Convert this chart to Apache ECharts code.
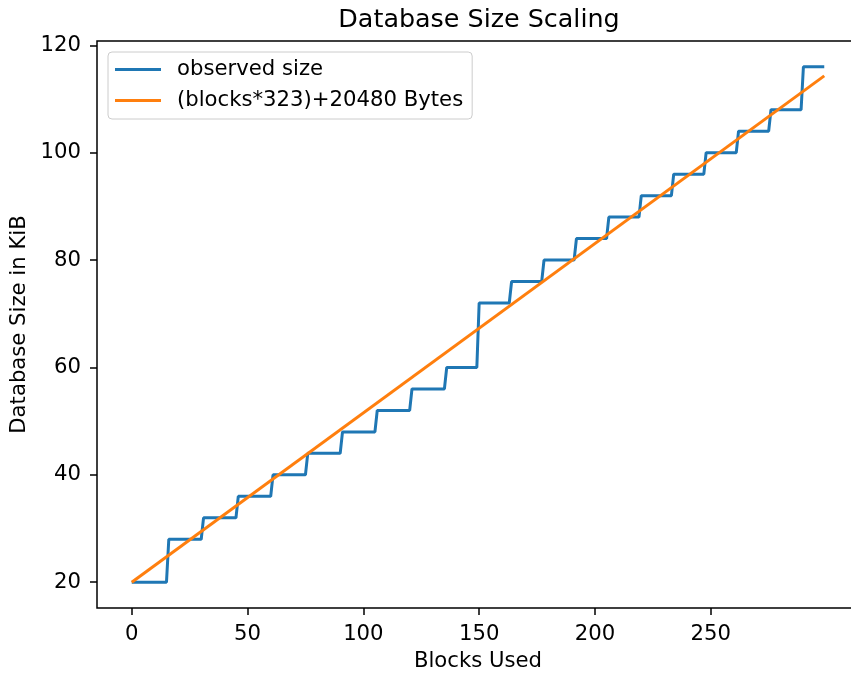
<!DOCTYPE html>
<html>
<head>
<meta charset="utf-8">
<script src="https://cdn.jsdelivr.net/npm/echarts@6/dist/echarts.min.js"></script>
<style>
  html, body { margin: 0; padding: 0; background: #fff; }
  #chart { width: 851px; height: 675px; }
</style>
</head>
<body>
<div id="chart"></div>
<script>
// observed size: first block of each plateau and its size in KiB
const stepBlocks = [0, 16, 31, 46, 61, 76, 91, 106, 121, 136, 150, 164, 178, 192, 206, 220, 234, 248, 262, 276, 290];
const stepSizes = [20, 28, 32, 36, 40, 44, 48, 52, 56, 60, 72, 76, 80, 84, 88, 92, 96, 100, 104, 108, 116];
const lastBlock = 299;

// fitted line endpoints
const fitBlocks = [0, 299];
const fitSizes = [20, 114.3];

const xTicks = [0, 50, 100, 150, 200, 250];
const yTicks = [20, 40, 60, 80, 100, 120];

const observed = [];
for (let i = 0; i < stepBlocks.length; i++) {
    const end = i + 1 < stepBlocks.length ? stepBlocks[i + 1] - 1 : lastBlock;
    observed.push([stepBlocks[i], stepSizes[i]]);
    observed.push([end, stepSizes[i]]);
}
const fit = fitBlocks.map((b, i) => [b, fitSizes[i]]);

const font = 'DejaVu Sans';
const fs = 21.2;
const chart = echarts.init(document.getElementById('chart'));
chart.setOption({
    animation: false,
    title: {
        text: 'Database Size Scaling',
        left: 479,
        top: 8,
        padding: 0,
        textAlign: 'center',
        textStyle: { fontFamily: font, fontSize: 25.4, fontWeight: 'normal', color: '#000' }
    },
    grid: {
        left: 97, top: 41, bottom: 67, width: 762,
        outerBoundsMode: 'none',
        show: true, borderColor: '#000', borderWidth: 1.5,
        containLabel: false
    },
    legend: {
        orient: 'vertical',
        left: 108, top: 52,
        padding: [7, 9, 8, 7],
        itemGap: 10,
        itemWidth: 46,
        itemHeight: 3,
        icon: 'rect',
        backgroundColor: 'rgba(255,255,255,0.8)',
        borderColor: '#cccccc',
        borderWidth: 1,
        borderRadius: 4,
        textStyle: { fontFamily: font, fontSize: fs, color: '#000', padding: [0, 0, 0, 11] },
        data: ['observed size', '(blocks*323)+20480 Bytes']
    },
    xAxis: {
        type: 'value',
        min: -15, max: 314,
        name: 'Blocks Used',
        nameLocation: 'middle',
        nameGap: 43,
        nameTextStyle: { fontFamily: font, fontSize: fs, color: '#000' },
        axisLine: { show: false, onZero: false },
        axisTick: { show: true, inside: false, length: 7, lineStyle: { color: '#000', width: 1.5 }, customValues: xTicks },
        axisLabel: { fontFamily: font, fontSize: fs, color: '#000', margin: 16, customValues: xTicks },
        splitLine: { show: false }
    },
    yAxis: {
        type: 'value',
        min: 15.2, max: 120.8,
        name: 'Database Size in KiB',
        nameLocation: 'middle',
        nameGap: 62,
        nameTextStyle: { fontFamily: font, fontSize: fs, color: '#000' },
        axisLine: { show: false, onZero: false },
        axisTick: { show: true, inside: false, length: 7, lineStyle: { color: '#000', width: 1.5 }, customValues: yTicks },
        axisLabel: { fontFamily: font, fontSize: fs, color: '#000', margin: 16, customValues: yTicks },
        splitLine: { show: false }
    },
    series: [
        {
            name: 'observed size',
            type: 'line',
            data: observed,
            symbol: 'none',
            color: '#1f77b4',
            lineStyle: { width: 3, color: '#1f77b4' }
        },
        {
            name: '(blocks*323)+20480 Bytes',
            type: 'line',
            data: fit,
            symbol: 'none',
            color: '#ff7f0e',
            lineStyle: { width: 3, color: '#ff7f0e' }
        }
    ]
});
</script>
</body>
</html>
